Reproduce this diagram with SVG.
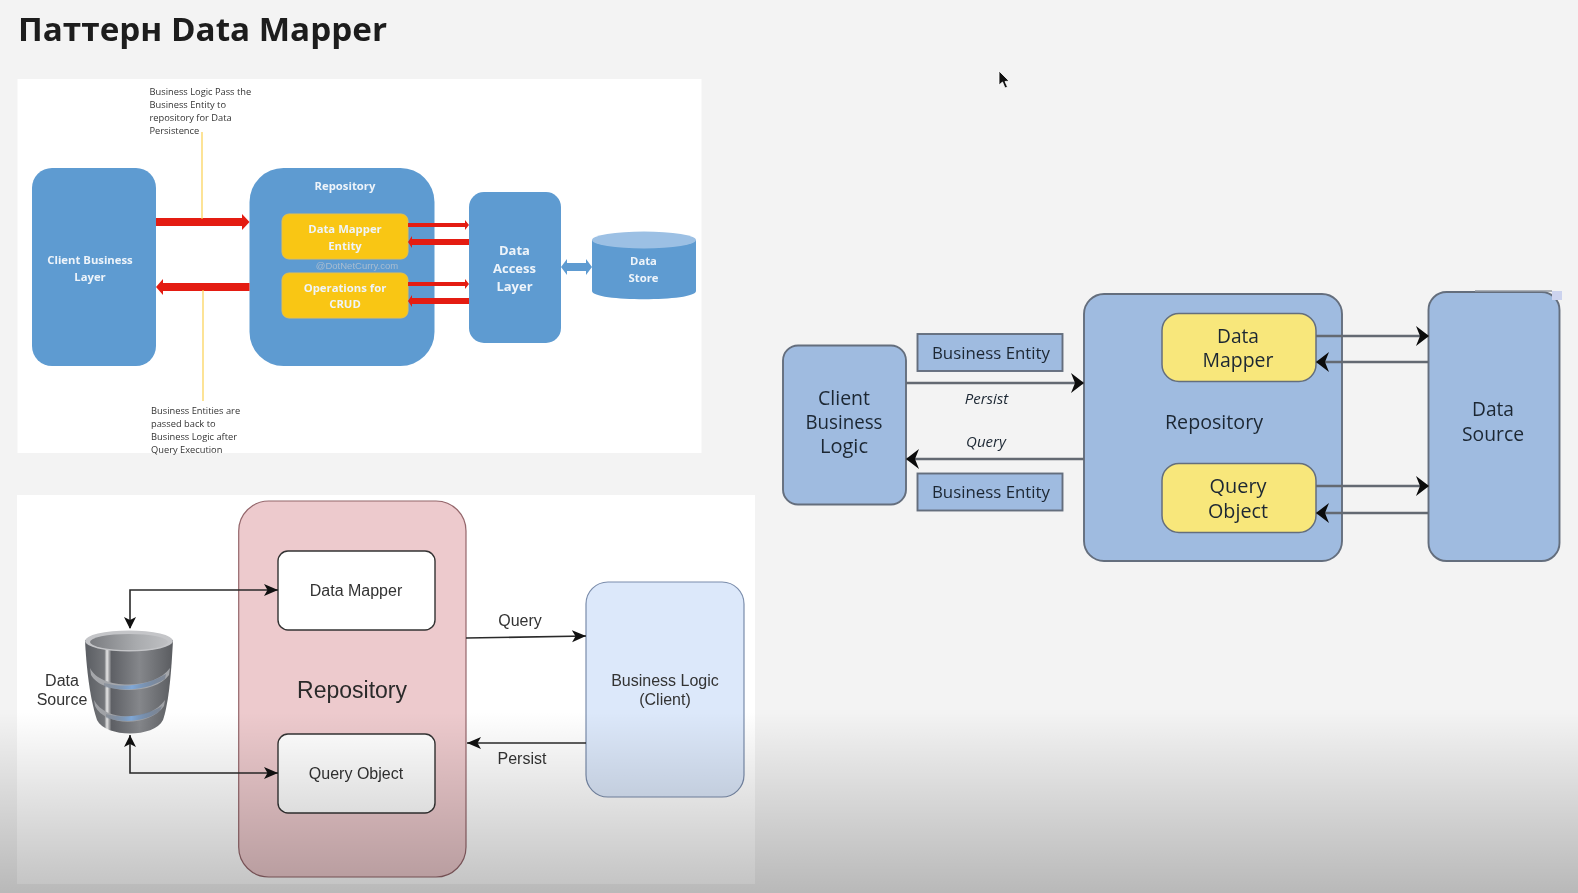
<svg xmlns="http://www.w3.org/2000/svg" width="1578" height="893" viewBox="0 0 1578 893">
<style>
text{font-family:"Liberation Sans",Arial,sans-serif}
.c{text-anchor:middle}
.w{fill:#eef4fa;font-weight:700;font-family:"Open Sans","Liberation Sans",sans-serif}
.n{font-family:"Open Sans","Liberation Sans",sans-serif;font-size:9.300px;fill:#333}
.b{fill:#5e9bd1}
.o{fill:#f9c614;stroke:#e7c04a}
.red{fill:#e41c12}
.y{stroke:#fbd050;stroke-width:1.200;fill:none}
.g{font-size:16px;fill:#333}
.wb{fill:#fff;stroke:#333;stroke-width:1.400}
.k{stroke:#2a2a2a;stroke-width:1.600;fill:none}
.bl{fill:#9fbbe0;stroke:#646e7d;stroke-width:1.900}
.ye{fill:#f8e77b;stroke:#646e7d;stroke-width:1.500}
.s{font-family:"Open Sans","Noto Sans",sans-serif;fill:#1c2733}
.ar{stroke:#636972;stroke-width:2.600;fill:none}
</style>
<defs>
<filter id="soft" x="0" y="0" width="1578" height="893" filterUnits="userSpaceOnUse" color-interpolation-filters="sRGB"><feGaussianBlur stdDeviation="0.4"/></filter>
<marker id="ah" markerUnits="userSpaceOnUse" markerWidth="16" markerHeight="16" refX="14" refY="8" orient="auto"><path d="M0,2 L14,8 L0,14 L3.500,8 Z" fill="#111"/></marker>
<marker id="ah2" markerUnits="userSpaceOnUse" markerWidth="18" markerHeight="24" refX="15" refY="11" orient="auto"><path d="M2,1 L15,11 L2,21 L6,11 Z" fill="#0c0c0c"/></marker>
<linearGradient id="fade" x1="0" y1="0" x2="0" y2="1"><stop offset="0" stop-color="#000" stop-opacity="0"/><stop offset="1" stop-color="#000" stop-opacity=".24"/></linearGradient>
<linearGradient id="dbb" x1="0" y1="0" x2="1" y2="0"><stop offset="0" stop-color="#5a5d62"/><stop offset=".22" stop-color="#74767a"/><stop offset=".25" stop-color="#e8e8e8"/><stop offset=".3" stop-color="#5e6065"/><stop offset=".62" stop-color="#85878b"/><stop offset="1" stop-color="#5a5c60"/></linearGradient>
<linearGradient id="dbt" x1="0" y1="0" x2="1" y2="0"><stop offset="0" stop-color="#7a7c80"/><stop offset=".6" stop-color="#a9abae"/><stop offset="1" stop-color="#bfc0c3"/></linearGradient>
<linearGradient id="band" x1="0" y1="0" x2="1" y2="0"><stop offset="0" stop-color="#5f6d80" stop-opacity=".3"/><stop offset=".45" stop-color="#7fa8d8"/><stop offset="1" stop-color="#4f5f78" stop-opacity=".4"/></linearGradient>
</defs>
<rect width="1578" height="893" fill="#f3f3f3"/>
<g filter="url(#soft)">
<text id="title" x="18" y="41" font-size="32" font-weight="700" style="font-family:'Open Sans','Noto Sans',sans-serif" fill="#1d1d1d" textLength="369" lengthAdjust="spacingAndGlyphs">Паттерн Data Mapper</text>
<path id="cursor" d="M999,71 L999,85 L1002.500,82 L1005,88 L1007.500,87 L1005,81.500 L1009,81 Z" fill="#111" stroke="#fff" stroke-width=".8"/>

<rect id="panel-top" x="17.500" y="79" width="684" height="374" fill="#fff"/>
<rect id="panel-bottom" x="17" y="495" width="738" height="389" fill="#fff"/>

<g id="top-diagram">
<g id="a-client"><rect class="b" x="32" y="168" width="124" height="198" rx="20"/><text class="w c" font-size="11.300"><tspan x="90" y="264">Client Business</tspan><tspan x="90" y="281">Layer</tspan></text></g>
<g id="a-repository"><rect class="b" x="249.500" y="168" width="185" height="198" rx="34"/><text class="w c" x="345" y="190" font-size="11.300">Repository</text></g>
<g id="a-mapper"><rect class="o" x="282" y="214" width="126" height="45" rx="7"/><text class="w c" font-size="11.300"><tspan x="345" y="233">Data Mapper</tspan><tspan x="345" y="250">Entity</tspan></text></g>
<g id="a-ops"><rect class="o" x="282" y="273" width="126" height="45" rx="7"/><text class="w c" font-size="11.300"><tspan x="345" y="292">Operations for</tspan><tspan x="345" y="308">CRUD</tspan></text></g>
<text id="a-watermark" class="c" x="357" y="269" font-size="9.500" fill="#a9bdd0">@DotNetCurry.com</text>
<g id="a-dal"><rect class="b" x="469" y="192" width="92" height="151" rx="15"/><text class="w c" font-size="13"><tspan x="514.500" y="255">Data</tspan><tspan x="514.500" y="273">Access</tspan><tspan x="514.500" y="291">Layer</tspan></text></g>
<g id="a-store"><path class="b" d="M592,240 V291 C592,302 696,302 696,291 V240 Z"/><ellipse cx="644" cy="240" rx="52" ry="8.500" fill="#9cc0e4"/><text class="w c" font-size="11.300"><tspan x="643.500" y="265">Data</tspan><tspan x="643.500" y="282">Store</tspan></text></g>
<g id="a-connectors">
<path class="red" d="M156,218 H242 V214 L249.500,222 L242,230 V226 H156 Z"/>
<path class="red" d="M249.500,283 H163 V279 L156,287 L163,295 V291 H249.500 Z"/>
<path class="red" d="M408,223 H465 V220 L469,225 L465,230 V227 H408 Z"/>
<path class="red" d="M469,239 H412 V236 L408,242 L412,248 V245 H469 Z"/>
<path class="red" d="M408,282 H465 V279 L469,284 L465,289 V286 H408 Z"/>
<path class="red" d="M469,298 H412 V295 L408,301 L412,307 V304 H469 Z"/>
<path fill="#5e9bd1" d="M561,267 L567,259 V263 H586 V259 L592,267 L586,275 V271 H567 V275 Z"/>
<path class="y" d="M202,132 V219"/>
<path class="y" d="M203,290 V401"/>
</g>
<text class="n" id="a-note1"><tspan x="149.500" y="95">Business Logic Pass the</tspan><tspan x="149.500" y="108">Business Entity to</tspan><tspan x="149.500" y="121">repository for Data</tspan><tspan x="149.500" y="134">Persistence</tspan></text>
<text class="n" id="a-note2"><tspan x="151" y="414">Business Entities are</tspan><tspan x="151" y="427">passed back to</tspan><tspan x="151" y="440">Business Logic after</tspan><tspan x="151" y="453">Query Execution</tspan></text>
</g>

<g id="bottom-diagram">
<g id="b-repository"><rect x="238.700" y="501" width="227.300" height="376" rx="30" fill="#edcacd" stroke="#94666b" stroke-width="1.200"/><text class="c" x="352" y="698" font-size="23" fill="#2a2a2a">Repository</text></g>
<g id="b-mapper"><rect class="wb" x="278" y="551" width="157" height="79" rx="10"/><text class="g c" x="356" y="596">Data Mapper</text></g>
<g id="b-query"><rect class="wb" x="278" y="734" width="157" height="79" rx="10"/><text class="g c" x="356" y="779">Query Object</text></g>
<g id="b-client"><rect x="586" y="582" width="158" height="215" rx="22" fill="#dce8fa" stroke="#7a8cab" stroke-width="1.200"/><text class="g c"><tspan x="665" y="686">Business Logic</tspan><tspan x="665" y="705">(Client)</tspan></text></g>
<g id="b-db">
<path d="M85,640 C87,680 92,705 97,720 C106,738 154,738 163,720 C168,705 171,680 173,640 Z" fill="url(#dbb)"/>
<ellipse cx="129" cy="641" rx="44" ry="10.500" fill="#c4c5c8"/><ellipse cx="129" cy="642" rx="39" ry="8" fill="url(#dbt)"/>
<path d="M90,668 C100,690 155,690 170,668 L169,675 C155,695 102,695 91,675 Z" fill="#a5a7ab"/>
<path d="M104,683 C125,688 145,686 166,674 L165,679 C145,691 125,691 104,687 Z" fill="url(#band)"/>
<path d="M94,700 C105,722 150,722 165,700 L164,706 C150,727 105,727 95,706 Z" fill="#a0a2a6"/>
<path d="M106,714 C125,719 145,716 162,706 L160,711 C145,722 125,723 106,718 Z" fill="url(#band)"/>
<text class="g c"><tspan x="62" y="686">Data</tspan><tspan x="62" y="705">Source</tspan></text>
</g>
<g id="b-connectors">
<path class="k" d="M130,628 V590 H278" marker-end="url(#ah)"/>
<path d="M124,617 L130,629 L136,617 L130,620 Z" fill="#111"/>
<path class="k" d="M130,735 V773 H278" marker-end="url(#ah)"/>
<path d="M124,747 L130,735 L136,747 L130,744 Z" fill="#111"/>
<path class="k" d="M466,638 L586,636" marker-end="url(#ah)"/>
<path class="k" d="M586,743 H467" marker-end="url(#ah)"/>
<text class="g c" x="520" y="626">Query</text>
<text class="g c" x="522" y="764">Persist</text>
</g>
</g>

<g id="right-diagram">
<g id="c-client"><rect class="bl" x="783" y="345.500" width="123" height="159" rx="15"/>
<text class="s c" font-size="20" x="844" y="405" textLength="52" lengthAdjust="spacingAndGlyphs">Client</text>
<text class="s c" font-size="20" x="844" y="429" textLength="77" lengthAdjust="spacingAndGlyphs">Business</text>
<text class="s c" font-size="20" x="844" y="453" textLength="48" lengthAdjust="spacingAndGlyphs">Logic</text></g>
<g id="c-entity1"><rect class="bl" x="917.500" y="334" width="145" height="37"/><text class="s c" x="991" y="359" font-size="17" textLength="118" lengthAdjust="spacingAndGlyphs">Business Entity</text></g>
<g id="c-entity2"><rect class="bl" x="917.500" y="473.500" width="145" height="37"/><text class="s c" x="991" y="498" font-size="17" textLength="118" lengthAdjust="spacingAndGlyphs">Business Entity</text></g>
<g id="c-repository"><rect class="bl" x="1084" y="294" width="258" height="267" rx="20"/><text class="s c" x="1214" y="429" font-size="20" textLength="98" lengthAdjust="spacingAndGlyphs">Repository</text></g>
<g id="c-mapper"><rect class="ye" x="1162" y="313.500" width="154" height="68" rx="17"/>
<text class="s c" font-size="20" x="1238" y="343" textLength="42" lengthAdjust="spacingAndGlyphs">Data</text>
<text class="s c" font-size="20" x="1238" y="367" textLength="71" lengthAdjust="spacingAndGlyphs">Mapper</text></g>
<g id="c-query"><rect class="ye" x="1162" y="463.500" width="154" height="69" rx="17"/>
<text class="s c" font-size="19.500" x="1238" y="493" textLength="57" lengthAdjust="spacingAndGlyphs">Query</text>
<text class="s c" font-size="19.500" x="1238" y="518" textLength="60" lengthAdjust="spacingAndGlyphs">Object</text></g>
<g id="c-source"><rect class="bl" x="1428.500" y="292" width="131" height="269" rx="18"/><path d="M1475,290 H1552" stroke="#f3f3f3" stroke-width="3"/><path d="M1475,291 H1552" stroke="#646e7d" stroke-width="1"/><rect x="1552" y="291" width="10" height="9" fill="#ccd3ee"/>
<text class="s c" font-size="20" x="1493" y="416" textLength="42" lengthAdjust="spacingAndGlyphs">Data</text>
<text class="s c" font-size="20" x="1493" y="441" textLength="62" lengthAdjust="spacingAndGlyphs">Source</text></g>
<g id="c-connectors">
<path class="ar" d="M906,383 H1084" marker-end="url(#ah2)"/>
<path class="ar" d="M1084,459 H906" marker-end="url(#ah2)"/>
<path class="ar" d="M1316,336 H1429" marker-end="url(#ah2)"/>
<path class="ar" d="M1428,362 H1316" marker-end="url(#ah2)"/>
<path class="ar" d="M1316,486 H1429" marker-end="url(#ah2)"/>
<path class="ar" d="M1428,513 H1316" marker-end="url(#ah2)"/>
<text class="s c" x="986.500" y="404" font-size="15" font-style="italic">Persist</text>
<text class="s c" x="986" y="447" font-size="15" font-style="italic">Query</text>
</g>
</g>
</g>
<rect id="fade-overlay" x="0" y="712" width="1578" height="181" fill="url(#fade)"/>
</svg>
